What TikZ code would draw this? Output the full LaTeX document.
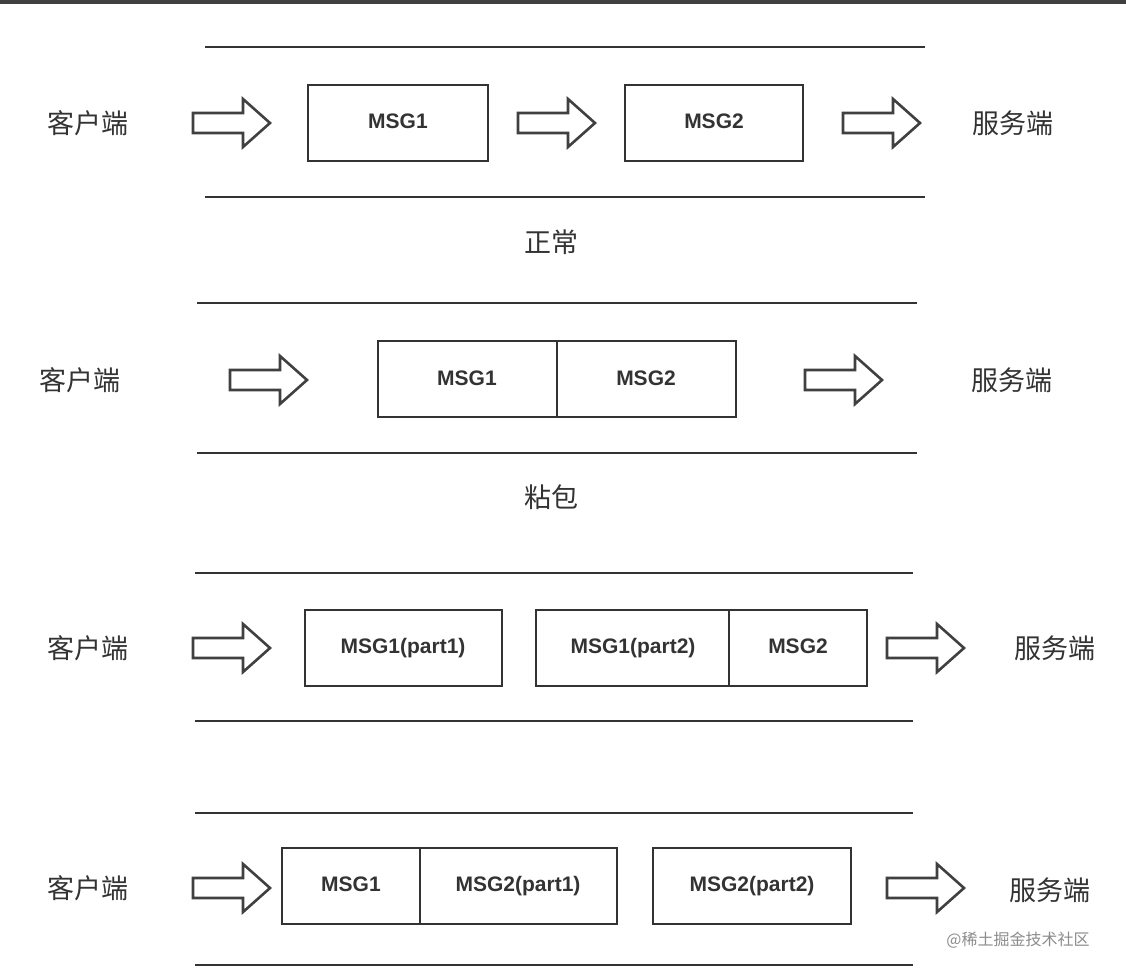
\documentclass[tikz,border=0pt]{standalone}
\usepackage{fontspec}
\setmainfont{Liberation Sans}
\newfontfamily\cjk{Noto Sans CJK SC}
\begin{document}
\begin{tikzpicture}[x=1pt,y=-1pt,
  rule/.style={line width=2.6pt,draw=black!80},
  box/.style={draw=black!80,line width=2.6pt},
  lbl/.style={font=\bfseries\fontsize{21}{23}\selectfont,text=black!80,text height=15pt,text depth=4pt},
  cn/.style={font=\cjk\fontsize{27}{30}\selectfont,text=black!80},
  harrow/.pic={\draw[line width=2.6pt,draw=black!75,line join=miter]
     (0,-10)--(50,-10)--(50,-24)--(77,0)--(50,24)--(50,10)--(0,10)--cycle;}]
\useasboundingbox[fill=white] (0,0) rectangle (1126,977);
\fill[black!75] (0,0) rectangle (1126,4);
% row 1
\draw[rule] (205,47) -- (925,47); \draw[rule] (205,197) -- (925,197);
\node[cn] (c1) at (88,123) {客户端};
\pic at (193,123) {harrow};
\draw[box] (308,85) rectangle (488,161); \node[lbl] (m1) at (398,123) {MSG1};
\pic at (518,123) {harrow};
\draw[box] (625,85) rectangle (803,161); \node[lbl] (m2) at (714,123) {MSG2};
\pic at (843,123) {harrow};
\node[cn] (s1) at (1013,123) {服务端};
\node[cn] (t1) at (551,242) {正常};
% row 2
\draw[rule] (197,303) -- (917,303); \draw[rule] (197,453) -- (917,453);
\node[cn] (c2) at (80,380) {客户端};
\pic at (230,380) {harrow};
\draw[box] (378,341) rectangle (736,417); \draw[box] (557,341) -- (557,417);
\node[lbl] at (467,380) {MSG1}; \node[lbl] at (646,380) {MSG2};
\pic at (805,380) {harrow};
\node[cn] (s2) at (1012,380) {服务端};
\node[cn] (t2) at (551,497) {粘包};
% row 3
\draw[rule] (195,573) -- (913,573); \draw[rule] (195,721) -- (913,721);
\node[cn] (c3) at (88,648) {客户端};
\pic at (193,648) {harrow};
\draw[box] (305,610) rectangle (502,686); \node[lbl] at (403,648) {MSG1(part1)};
\draw[box] (536,610) rectangle (867,686); \draw[box] (729,610) -- (729,686);
\node[lbl] at (633,648) {MSG1(part2)}; \node[lbl] at (798,648) {MSG2};
\pic at (887,648) {harrow};
\node[cn] (s3) at (1055,648) {服务端};
% row 4
\draw[rule] (195,813) -- (913,813); \draw[rule] (195,965) -- (913,965);
\node[cn] (c4) at (88,888) {客户端};
\pic at (193,888) {harrow};
\draw[box] (282,848) rectangle (617,924); \draw[box] (420,848) -- (420,924);
\node[lbl] at (351,886) {MSG1}; \node[lbl] at (518,886) {MSG2(part1)};
\draw[box] (653,848) rectangle (851,924); \node[lbl] at (752,886) {MSG2(part2)};
\pic at (887,888) {harrow};
\node[cn] (s4) at (1050,890) {服务端};
\node[font=\cjk\fontsize{16}{18}\selectfont,text=black!45] (wm) at (1018,940) {@稀土掘金技术社区};
\end{tikzpicture}
\end{document}
